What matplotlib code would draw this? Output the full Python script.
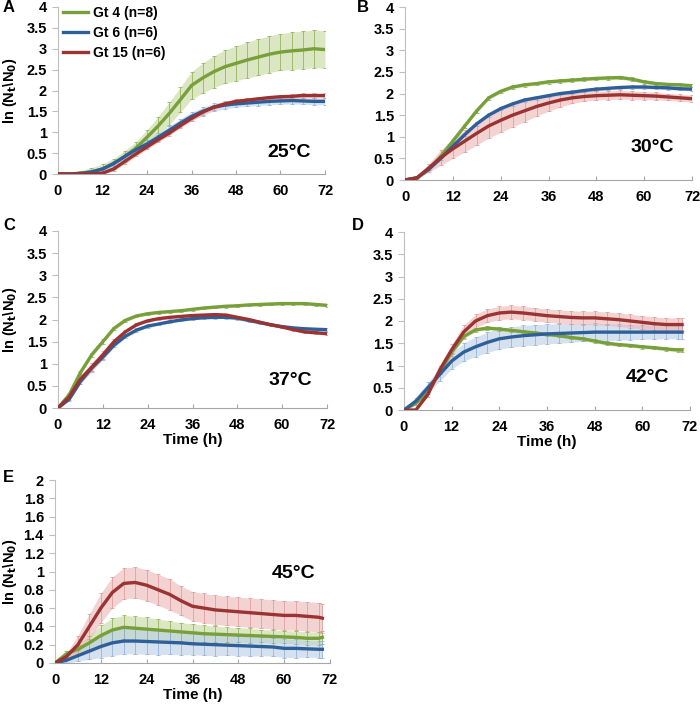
import matplotlib
matplotlib.use("Agg")
import matplotlib.pyplot as plt
import numpy as np

plt.rcParams['font.family'] = ['Liberation Sans', 'DejaVu Sans']
plt.rcParams['font.weight'] = 'bold'

# ---------------- data ----------------
t_full = [0, 3, 6, 9, 12, 15, 18, 21, 24, 27, 30, 33, 36, 39, 42, 45, 48, 51, 54, 57, 60, 63, 66, 69, 72]
t_short = [0, 3, 6, 9, 12, 15, 18, 21, 24, 27, 30, 33, 36, 39, 42, 45, 48, 51, 54, 57, 60, 63, 66, 69, 70]

series_names = ["Gt 4 (n=8)", "Gt 6 (n=6)", "Gt 15 (n=6)"]
line_colors = ["#77A03A", "#2F5F98", "#9A3331"]
fill_colors = ["#C3D69B", "#B9CDE5", "#EBB5B4"]
bar_colors = ["#8EAF55", "#8FB0D8", "#DD9A98"]

# Panel A, 25 C
a_gt4 = [0, 0, 0.02, 0.05, 0.12, 0.25, 0.42, 0.62, 0.88, 1.15, 1.45, 1.78, 2.12, 2.3, 2.45, 2.57, 2.65, 2.73, 2.8, 2.87, 2.92, 2.95, 2.97, 3.0, 2.98]
a_gt4_err = [0, 0.02, 0.06, 0.1, 0.12, 0.12, 0.14, 0.15, 0.18, 0.22, 0.27, 0.3, 0.33, 0.36, 0.38, 0.4, 0.42, 0.43, 0.44, 0.44, 0.44, 0.45, 0.45, 0.45, 0.45]
a_gt6 = [0, 0, 0.01, 0.05, 0.12, 0.25, 0.42, 0.58, 0.72, 0.88, 1.05, 1.22, 1.38, 1.5, 1.6, 1.65, 1.68, 1.7, 1.72, 1.74, 1.75, 1.76, 1.75, 1.74, 1.74]
a_gt6_err = [0, 0.01, 0.02, 0.03, 0.05, 0.07, 0.08, 0.09, 0.1, 0.1, 0.1, 0.1, 0.1, 0.1, 0.09, 0.09, 0.08, 0.08, 0.08, 0.08, 0.08, 0.08, 0.08, 0.08, 0.08]
a_gt15 = [0, 0, 0, 0, 0.02, 0.12, 0.3, 0.48, 0.65, 0.82, 0.98, 1.16, 1.33, 1.48, 1.6, 1.68, 1.74, 1.77, 1.8, 1.83, 1.85, 1.86, 1.88, 1.88, 1.88]
a_gt15_err = [0, 0, 0.01, 0.01, 0.02, 0.05, 0.06, 0.06, 0.06, 0.06, 0.06, 0.06, 0.06, 0.06, 0.06, 0.05, 0.05, 0.05, 0.05, 0.05, 0.05, 0.05, 0.05, 0.05, 0.05]

# Panel B, 30 C
b_gt4 = [0, 0.05, 0.25, 0.55, 0.9, 1.25, 1.6, 1.9, 2.05, 2.15, 2.2, 2.23, 2.27, 2.29, 2.31, 2.33, 2.35, 2.36, 2.37, 2.33, 2.27, 2.23, 2.21, 2.2, 2.18]
b_gt4_err = [0, 0.01, 0.02, 0.03, 0.03, 0.04, 0.04, 0.04, 0.04, 0.04, 0.04, 0.04, 0.04, 0.04, 0.04, 0.04, 0.04, 0.04, 0.04, 0.04, 0.04, 0.04, 0.04, 0.04, 0.04]
b_gt6 = [0, 0.05, 0.25, 0.5, 0.78, 1.05, 1.3, 1.5, 1.65, 1.76, 1.85, 1.9, 1.95, 2.0, 2.03, 2.07, 2.1, 2.12, 2.14, 2.15, 2.15, 2.14, 2.13, 2.11, 2.1]
b_gt6_err = [0, 0.01, 0.02, 0.03, 0.04, 0.04, 0.04, 0.04, 0.04, 0.04, 0.04, 0.04, 0.04, 0.04, 0.04, 0.04, 0.04, 0.04, 0.04, 0.04, 0.04, 0.04, 0.04, 0.04, 0.04]
b_gt15 = [0, 0.05, 0.28, 0.52, 0.72, 0.9, 1.08, 1.25, 1.38, 1.5, 1.6, 1.7, 1.78, 1.85, 1.9, 1.93, 1.95, 1.96, 1.97, 1.96, 1.95, 1.94, 1.92, 1.9, 1.88]
b_gt15_err = [0, 0.03, 0.1, 0.18, 0.22, 0.25, 0.27, 0.28, 0.28, 0.27, 0.25, 0.22, 0.19, 0.16, 0.13, 0.11, 0.1, 0.1, 0.1, 0.1, 0.09, 0.09, 0.08, 0.08, 0.08]

# Panel C, 37 C
c_gt4 = [0, 0.3, 0.8, 1.2, 1.5, 1.8, 1.98, 2.08, 2.13, 2.16, 2.18, 2.2, 2.23, 2.26, 2.28, 2.3, 2.31, 2.33, 2.34, 2.35, 2.36, 2.36, 2.36, 2.34, 2.32]
c_gt4_err = [0, 0.03, 0.04, 0.05, 0.05, 0.04, 0.04, 0.03, 0.03, 0.03, 0.03, 0.03, 0.03, 0.03, 0.03, 0.03, 0.03, 0.03, 0.03, 0.03, 0.03, 0.03, 0.03, 0.03, 0.03]
c_gt6 = [0, 0.2, 0.6, 0.9, 1.15, 1.42, 1.62, 1.76, 1.85, 1.9, 1.95, 1.99, 2.02, 2.04, 2.05, 2.05, 2.03, 1.98, 1.93, 1.88, 1.84, 1.81, 1.79, 1.78, 1.77]
c_gt6_err = [0, 0.05, 0.06, 0.06, 0.06, 0.05, 0.04, 0.04, 0.04, 0.03, 0.03, 0.03, 0.03, 0.03, 0.03, 0.03, 0.03, 0.03, 0.03, 0.03, 0.03, 0.03, 0.03, 0.03, 0.03]
c_gt15 = [0, 0.25, 0.65, 0.92, 1.2, 1.5, 1.72, 1.88, 1.97, 2.02, 2.05, 2.07, 2.09, 2.1, 2.11, 2.1, 2.05, 2.0, 1.94, 1.88, 1.83, 1.77, 1.72, 1.7, 1.68]
c_gt15_err = [0, 0.06, 0.1, 0.1, 0.09, 0.06, 0.04, 0.03, 0.03, 0.03, 0.03, 0.03, 0.03, 0.03, 0.03, 0.03, 0.03, 0.03, 0.03, 0.03, 0.03, 0.03, 0.03, 0.03, 0.03]

# Panel D, 42 C
d_gt4 = [0, 0.15, 0.4, 0.85, 1.3, 1.65, 1.8, 1.84, 1.82, 1.79, 1.76, 1.73, 1.7, 1.67, 1.63, 1.6, 1.55, 1.5, 1.47, 1.45, 1.42, 1.4, 1.37, 1.35, 1.35]
d_gt4_err = [0, 0.03, 0.04, 0.05, 0.05, 0.04, 0.04, 0.04, 0.04, 0.04, 0.04, 0.04, 0.04, 0.04, 0.04, 0.04, 0.04, 0.04, 0.04, 0.04, 0.04, 0.04, 0.04, 0.04, 0.04]
d_gt6 = [0, 0.2, 0.5, 0.8, 1.1, 1.3, 1.42, 1.52, 1.6, 1.64, 1.67, 1.69, 1.71, 1.72, 1.73, 1.74, 1.75, 1.75, 1.75, 1.75, 1.75, 1.75, 1.75, 1.75, 1.75]
d_gt6_err = [0, 0.08, 0.12, 0.15, 0.18, 0.2, 0.22, 0.23, 0.23, 0.23, 0.23, 0.23, 0.22, 0.22, 0.21, 0.2, 0.2, 0.19, 0.18, 0.17, 0.16, 0.16, 0.15, 0.15, 0.15]
d_gt15 = [0, 0, 0.35, 0.9, 1.35, 1.75, 2.0, 2.12, 2.18, 2.2, 2.18, 2.15, 2.12, 2.1, 2.08, 2.07, 2.07, 2.05, 2.03, 2.0, 1.97, 1.94, 1.92, 1.92, 1.92]
d_gt15_err = [0, 0, 0.05, 0.1, 0.13, 0.15, 0.15, 0.15, 0.15, 0.15, 0.15, 0.15, 0.15, 0.15, 0.15, 0.15, 0.15, 0.15, 0.15, 0.15, 0.15, 0.15, 0.15, 0.15, 0.15]

# Panel E, 45 C
e_gt4 = [0, 0.1, 0.15, 0.22, 0.3, 0.36, 0.39, 0.38, 0.37, 0.36, 0.35, 0.34, 0.33, 0.32, 0.315, 0.31, 0.305, 0.3, 0.295, 0.29, 0.285, 0.28, 0.27, 0.27, 0.28]
e_gt4_err = [0, 0.03, 0.05, 0.08, 0.11, 0.13, 0.13, 0.13, 0.13, 0.12, 0.11, 0.1, 0.1, 0.09, 0.09, 0.08, 0.08, 0.08, 0.07, 0.07, 0.07, 0.07, 0.07, 0.07, 0.07]
e_gt6 = [0, 0.03, 0.08, 0.13, 0.18, 0.22, 0.24, 0.24, 0.235, 0.23, 0.225, 0.22, 0.21, 0.205, 0.2, 0.195, 0.19, 0.185, 0.18, 0.175, 0.16, 0.16, 0.155, 0.15, 0.15]
e_gt6_err = [0, 0.03, 0.06, 0.09, 0.12, 0.14, 0.14, 0.14, 0.14, 0.14, 0.13, 0.13, 0.12, 0.12, 0.12, 0.11, 0.11, 0.11, 0.1, 0.1, 0.1, 0.1, 0.09, 0.09, 0.09]
e_gt15 = [0, 0.07, 0.2, 0.4, 0.6, 0.77, 0.87, 0.88, 0.85, 0.8, 0.75, 0.68, 0.62, 0.6, 0.58, 0.57, 0.56, 0.55, 0.54, 0.53, 0.52, 0.52, 0.51, 0.5, 0.49]
e_gt15_err = [0, 0.04, 0.1, 0.14, 0.16, 0.17, 0.17, 0.17, 0.17, 0.17, 0.17, 0.16, 0.16, 0.16, 0.16, 0.16, 0.16, 0.16, 0.16, 0.16, 0.16, 0.16, 0.16, 0.16, 0.16]

x_ticks = [0, 12, 24, 36, 48, 60, 72]

panels = [
    dict(label="A", temp="25°C", t=t_full, ymax=4, ystep=0.5,
         data=[(a_gt4, a_gt4_err), (a_gt6, a_gt6_err), (a_gt15, a_gt15_err)],
         rect=[58, 7, 267, 167], ylabel=True, xlabel=False, legend=True,
         temp_xy=(0.865, 0.13), lab_xy=(3, 8)),
    dict(label="B", temp="30°C", t=t_full, ymax=4, ystep=0.5,
         data=[(b_gt4, b_gt4_err), (b_gt6, b_gt6_err), (b_gt15, b_gt15_err)],
         rect=[405, 7, 287, 173], ylabel=False, xlabel=False, legend=False,
         temp_xy=(0.86, 0.19), lab_xy=(357, 8)),
    dict(label="C", temp="37°C", t=t_full, ymax=4, ystep=0.5,
         data=[(c_gt4, c_gt4_err), (c_gt6, c_gt6_err), (c_gt15, c_gt15_err)],
         rect=[58, 231, 269, 177], ylabel=True, xlabel=True, legend=False,
         temp_xy=(0.862, 0.158), lab_xy=(3, 225)),
    dict(label="D", temp="42°C", t=t_short, ymax=4, ystep=0.5,
         data=[(d_gt4, d_gt4_err), (d_gt6, d_gt6_err), (d_gt15, d_gt15_err)],
         rect=[404, 232, 286, 178], ylabel=False, xlabel=True, legend=False,
         temp_xy=(0.853, 0.18), lab_xy=(352, 226)),
    dict(label="E", temp="45°C", t=t_short, ymax=2, ystep=0.2,
         data=[(e_gt4, e_gt4_err), (e_gt6, e_gt6_err), (e_gt15, e_gt15_err)],
         rect=[55, 480, 275, 183], ylabel=True, xlabel=True, legend=False,
         temp_xy=(0.866, 0.49), lab_xy=(3, 477)),
]

W, H = 700, 706
fig = plt.figure(figsize=(W / 100, H / 100), dpi=100)

for p in panels:
    lx, ty, w, h = p["rect"]
    ax = fig.add_axes([lx / W, 1 - (ty + h) / H, w / W, h / H])
    t = np.array(p["t"])
    for i in range(3):
        y, e = p["data"][i]
        y = np.array(y); e = np.array(e)
        ax.fill_between(t, y - e, y + e, color=fill_colors[i], alpha=0.6, lw=0, zorder=1)
        ax.errorbar(t, y, yerr=e, fmt='none', ecolor=bar_colors[i], elinewidth=0.6,
                    capsize=1.5, capthick=0.6, zorder=2, alpha=0.9)
    for i in range(3):
        y, e = p["data"][i]
        ax.plot(t, y, color=line_colors[i], lw=2.4, zorder=3, label=series_names[i])

    ax.set_xlim(0, 72)
    ax.set_ylim(0, p["ymax"])
    ax.set_xticks(x_ticks)
    yt = np.round(np.arange(0, p["ymax"] + 1e-9, p["ystep"]), 2)
    ax.set_yticks(yt)
    ax.set_yticklabels([("%g" % v) for v in yt])
    for s in ["top", "right"]:
        ax.spines[s].set_visible(False)
    ax.spines["left"].set_color("#BFBFBF")
    ax.spines["bottom"].set_color("#A6A6A6")
    ax.tick_params(axis='y', direction='out', length=4, color="#BFBFBF", labelsize=10.5, pad=4)
    ax.tick_params(axis='x', direction='in', length=3, color="#A6A6A6", labelsize=10.5, pad=7)
    for lab in ax.get_xticklabels() + ax.get_yticklabels():
        lab.set_fontweight('bold')
    if p["ylabel"]:
        ax.set_ylabel(r"ln (N$_\mathbf{t}$\N$_\mathbf{0}$)", fontsize=10.5, fontweight='bold')
        ax.yaxis.set_label_coords((10 - lx) / w, 0.5)
        ax.yaxis.label.set_va('center')
    if p["xlabel"]:
        ax.set_xlabel("Time (h)", fontsize=11, fontweight='bold', labelpad=1)
    ax.text(p["temp_xy"][0], p["temp_xy"][1], p["temp"], transform=ax.transAxes,
            fontsize=14, fontweight='bold', ha='center', va='center')
    fig.text(p["lab_xy"][0] / W, 1 - p["lab_xy"][1] / H, p["label"],
             fontsize=12, fontweight='bold', ha='left', va='center')
    if p["legend"]:
        leg = ax.legend(loc='upper left', bbox_to_anchor=((63 - lx) / w, 1.008), frameon=False,
                        fontsize=10, handlelength=1.8, handletextpad=0.35,
                        labelspacing=0.45, borderaxespad=0.0, borderpad=0.0)
        for txt in leg.get_texts():
            txt.set_fontweight('bold')

fig.savefig("out.png", dpi=100)
